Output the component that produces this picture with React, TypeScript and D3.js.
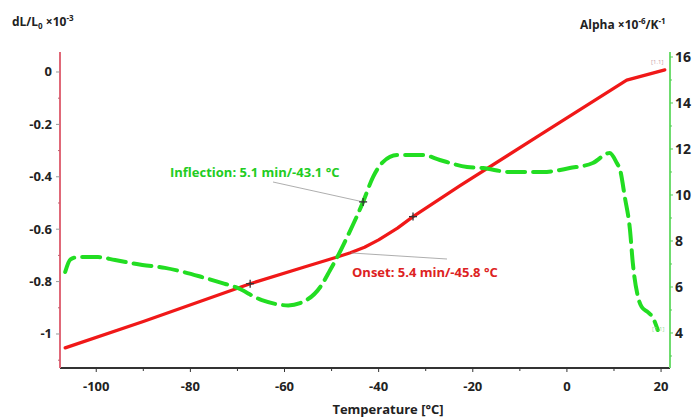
import React from "react";
import * as d3 from "d3";

const W = 699;
const H = 419;

// dL/L0 (x10^-3) curve: [temperature °C, value]
const dlTemps = [-106.6, -90, -67.3, -55.6, -48.8, -46, -43, -40, -36, -32.7, -22.7, -5.7, 12.7, 20.8];
const dlValues = [-1.053, -0.952, -0.808, -0.743, -0.706, -0.69, -0.669, -0.641, -0.596, -0.552, -0.434, -0.24, -0.031, 0.008];

// Alpha (x10^-6/K) curve
const alphaTemps = [-106.6, -105.5, -103.8, -99.6, -96.0, -90.2, -85.4, -77.5, -73.2, -70.5, -64.8, -59.2, -56.7, -52.4, -50.3, -48.8, -46.7, -43.3, -41.2, -39.1, -36.1, -30.6, -27.0, -21.2, -17.8, -12.1, -5.1, 0.6, 5.5, 9.1, 10.6, 11.3, 12.3, 13.4, 14.0, 15.1, 15.9, 17.2, 18.3, 19.3];
const alphaValues = [6.65, 7.2, 7.3, 7.3, 7.17, 6.96, 6.83, 6.43, 6.17, 6.0, 5.43, 5.2, 5.3, 6.0, 6.74, 7.3, 8.17, 9.7, 10.78, 11.43, 11.74, 11.74, 11.52, 11.22, 11.17, 11.0, 11.0, 11.17, 11.39, 11.83, 11.39, 11.09, 9.91, 8.48, 7.04, 5.57, 5.13, 4.91, 4.65, 4.13];

// Markers
const dlMarkerTemps = [-67.3, -32.7];
const dlMarkerValues = [-0.808, -0.552];
const alphaMarkerTemps = [-43.3];
const alphaMarkerValues = [9.7];

// Ticks
const xTicks = [-100, -80, -60, -40, -20, 0, 20];
const xMinorTicks = [-90, -70, -50, -30, -10, 10];
const leftTicks = [0, -0.2, -0.4, -0.6, -0.8, -1];
const leftTickLabels = ["0", "-0.2", "-0.4", "-0.6", "-0.8", "-1"];
const leftMinorTicks = [-0.1, -0.3, -0.5, -0.7, -0.9, -1.1];
const rightTicks = [16, 14, 12, 10, 8, 6, 4];
const rightMinorTicks = [15, 13, 11, 9, 7, 5, 3];

const FONT = "'Open Sans', 'Liberation Sans', sans-serif";

export default function App() {
  const x = d3.scaleLinear().domain([-107.7, 21.9]).range([60, 670]);
  const yL = d3.scaleLinear().domain([-1.1298, 0.0763]).range([368, 52]);
  const yR = d3.scaleLinear().domain([2.478, 16.217]).range([368, 52]);

  const dlData = dlTemps.map((t, i) => [t, dlValues[i]] as [number, number]);
  const alphaData = alphaTemps.map((t, i) => [t, alphaValues[i]] as [number, number]);

  const dlLine = d3
    .line<[number, number]>()
    .x((d) => x(d[0]))
    .y((d) => yL(d[1]))
    .curve(d3.curveLinear);
  const alphaLine = d3
    .line<[number, number]>()
    .x((d) => x(d[0]))
    .y((d) => yR(d[1]))
    .curve(d3.curveMonotoneX);

  const cross = (cx: number, cy: number, k: string) => (
    <g key={k} stroke="#333" strokeWidth={1.3}>
      <line x1={cx - 4} x2={cx + 4} y1={cy} y2={cy} />
      <line x1={cx} x2={cx} y1={cy - 4} y2={cy + 4} />
    </g>
  );

  const onsetX = x(-48.8);
  const onsetY = yL(-0.706);
  const inflX = x(alphaMarkerTemps[0]);
  const inflY = yR(alphaMarkerValues[0]);

  return (
    <svg
      width={W}
      height={H}
      style={{ position: "absolute", left: 0, top: 0, background: "#fff" }}
      fontFamily={FONT}
    >
      <rect width={W} height={H} fill="#fff" />

      {/* Axis titles */}
      <text x={12} y={26} fontSize={12} fontWeight={700} fill="#222">
        dL/L<tspan fontSize={8} dy={3}>0</tspan>
        <tspan dy={-3}> ×10</tspan>
        <tspan fontSize={8} dy={-5}>-3</tspan>
      </text>
      <text x={580} y={29} fontSize={12} fontWeight={700} fill="#222">
        Alpha ×10<tspan fontSize={8} dy={-5}>-6</tspan>
        <tspan dy={5}>/K</tspan>
        <tspan fontSize={8} dy={-5}>-1</tspan>
      </text>
      <text x={388} y={414} fontSize={13} fontWeight={700} fill="#222" textAnchor="middle">
        Temperature [°C]
      </text>

      {/* X axis */}
      <line x1={60} x2={670} y1={368} y2={368} stroke="#333" strokeWidth={2} />
      {xTicks.map((t) => (
        <g key={"xt" + t}>
          <line x1={x(t)} x2={x(t)} y1={368} y2={372} stroke="#333" strokeWidth={1} />
          <text x={x(t)} y={391} fontSize={13} fontWeight={700} fill="#222" textAnchor="middle">
            {String(t)}
          </text>
        </g>
      ))}
      {xMinorTicks.map((t) => (
        <line key={"xm" + t} x1={x(t)} x2={x(t)} y1={368} y2={371} stroke="#333" strokeWidth={1} />
      ))}

      {/* Left axis */}
      <line x1={60} x2={60} y1={52} y2={368} stroke="#e06878" strokeWidth={2} />
      {leftTicks.map((t, i) => (
        <g key={"lt" + t}>
          <line x1={56} x2={60} y1={yL(t)} y2={yL(t)} stroke="#999" strokeWidth={1} />
          <text x={52} y={yL(t) + 4.5} fontSize={13} fontWeight={700} fill="#222" textAnchor="end">
            {leftTickLabels[i]}
          </text>
        </g>
      ))}
      {leftMinorTicks.map((t) => (
        <line key={"lm" + t} x1={58} x2={60} y1={yL(t)} y2={yL(t)} stroke="#c06070" strokeWidth={1} />
      ))}

      {/* Right axis */}
      <line x1={670} x2={670} y1={52} y2={368} stroke="#6fdc6f" strokeWidth={2} />
      {rightTicks.map((t) => (
        <g key={"rt" + t}>
          <line x1={670} x2={673} y1={yR(t)} y2={yR(t)} stroke="#5c5" strokeWidth={1} />
          <text x={675} y={yR(t) + 5} fontSize={14} fontWeight={700} fill="#222">
            {String(t)}
          </text>
        </g>
      ))}
      {rightMinorTicks.map((t) => (
        <line key={"rm" + t} x1={670} x2={672} y1={yR(t)} y2={yR(t)} stroke="#5c5" strokeWidth={1} />
      ))}

      {/* Curves */}
      <path
        d={dlLine(dlData) || ""}
        fill="none"
        stroke="#f01818"
        strokeWidth={3.2}
        strokeLinecap="round"
        strokeLinejoin="round"
      />
      <path
        d={alphaLine(alphaData) || ""}
        fill="none"
        stroke="#22dd22"
        strokeWidth={4}
        strokeDasharray="18 8"
        strokeLinecap="round"
      />

      {/* Annotation leader lines */}
      <line x1={273} y1={182} x2={inflX} y2={inflY} stroke="#999" strokeWidth={0.8} />
      <line x1={onsetX + 14} y1={onsetY - 4} x2={447} y2={259} stroke="#999" strokeWidth={0.8} />

      {/* Markers */}
      {dlMarkerTemps.map((t, i) => cross(x(t), yL(dlMarkerValues[i]), "dm" + i))}
      {alphaMarkerTemps.map((t, i) => cross(x(t), yR(alphaMarkerValues[i]), "am" + i))}

      {/* Annotation labels */}
      <text x={170} y={177} fontSize={13} fontWeight={700} fill="#22cc22">
        Inflection: 5.1 min/-43.1 °C
      </text>
      <text x={352} y={277} fontSize={13} fontWeight={700} fill="#dd2222">
        Onset: 5.4 min/-45.8 °C
      </text>

      {/* Small segment labels */}
      <text x={651} y={64} fontSize={6} fill="#c9a0a8">[1.1]</text>
      <text x={652} y={331} fontSize={6} fill="#99dd99">[1.1]</text>
    </svg>
  );
}
